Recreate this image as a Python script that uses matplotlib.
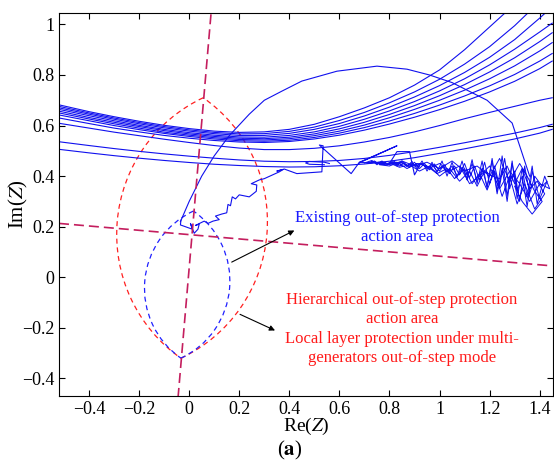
import numpy as np
import matplotlib
matplotlib.use('Agg')
import matplotlib.pyplot as plt
from matplotlib.patches import Arc
from matplotlib.ticker import FuncFormatter

plt.rcParams['font.family'] = ['Liberation Serif', 'DejaVu Serif']
plt.rcParams['mathtext.fontset'] = 'stix'

# ---- data ----
# swing arcs (impedance circles), sampled on one x grid
arc_x = [-0.52, -0.4, -0.3, -0.2, -0.1, 0.0, 0.1, 0.2, 0.3, 0.4, 0.5,
         0.6, 0.7, 0.8, 0.9, 1.0, 1.1, 1.2, 1.3, 1.4, 1.45]
arc_y = [
    [.682, .655, .635, .617, .601, .588, .578, .573, .575, .585, .605, .635, .670, .710, .760, .820, .900, .990, 1.08, 1.17, 1.21],
    [.676, .650, .630, .612, .596, .583, .573, .567, .568, .577, .594, .620, .652, .690, .733, .783, .843, .912, .995, 1.09, 1.14],
    [.670, .645, .625, .607, .591, .578, .568, .561, .561, .569, .585, .608, .638, .673, .713, .758, .810, .870, .940, 1.025, 1.07],
    [.664, .639, .619, .601, .585, .572, .562, .555, .554, .561, .575, .597, .625, .658, .695, .737, .785, .840, .902, .970, 1.005],
    [.657, .632, .613, .596, .580, .567, .557, .550, .548, .554, .567, .587, .613, .644, .679, .718, .762, .812, .868, .932, .967],
    [.650, .626, .607, .590, .574, .562, .552, .545, .543, .548, .560, .578, .602, .631, .664, .700, .740, .785, .836, .895, .928],
    [.642, .619, .600, .584, .569, .557, .547, .540, .538, .542, .553, .570, .592, .618, .648, .681, .717, .757, .802, .855, .885],
    [.630, .608, .590, .575, .561, .550, .541, .535, .533, .537, .547, .562, .582, .606, .633, .663, .696, .733, .775, .825, .855],
    [.609, .590, .574, .560, .546, .533, .521, .511, .505, .505, .510, .520, .535, .553, .575, .600, .627, .652, .676, .700, .710],
    [.536, .521, .509, .498, .488, .479, .471, .464, .459, .457, .458, .462, .470, .482, .497, .514, .532, .551, .570, .592, .605],
    [.506, .492, .481, .471, .462, .454, .447, .442, .438, .436, .437, .441, .448, .459, .473, .490, .508, .527, .547, .570, .585],
]

# big swing hump
hump_x = [-0.035, 0.0, 0.05, 0.10, 0.16, 0.24, 0.30, 0.37, 0.45, 0.59, 0.75, 0.87, 0.96, 1.05, 1.19, 1.29, 1.34, 1.36]
hump_y = [0.22, 0.30, 0.40, 0.48, 0.56, 0.645, 0.70, 0.736, 0.776, 0.815, 0.835, 0.823, 0.80, 0.77, 0.70, 0.61, 0.46, 0.40]

# jagged path after fault
path_x = [-0.033, -0.035, 0.013, 0.005, 0.02, 0.035, 0.04, 0.025, 0.06, 0.075, 0.095, 0.12, 0.105, 0.13, 0.15,
          0.155, 0.165, 0.172, 0.185, 0.20, 0.24, 0.268, 0.27, 0.248, 0.28, 0.30, 0.36, 0.375, 0.35, 0.38,
          0.43, 0.53, 0.535, 0.52, 0.647, 0.68, 0.75, 0.83, 0.70, 0.68]
path_y = [0.226, 0.207, 0.19, 0.213, 0.174, 0.19, 0.21, 0.205, 0.222, 0.213, 0.222, 0.228, 0.242, 0.25, 0.255,
          0.288, 0.283, 0.318, 0.31, 0.326, 0.318, 0.34, 0.365, 0.37, 0.385, 0.39, 0.417, 0.426, 0.42, 0.428,
          0.41, 0.417, 0.52, 0.523, 0.41, 0.455, 0.485, 0.52, 0.462, 0.452]
loop_x = [0.54, 0.48, 0.465, 0.48, 0.54, 0.56]
loop_y = [0.445, 0.447, 0.452, 0.458, 0.455, 0.45]
bump_x = [0.80, 0.83, 0.88, 0.90, 0.92]
bump_y = [0.45, 0.497, 0.497, 0.405, 0.44]

# oscillation around the load point (two passes)
osc_x = [0.68, 0.72, 0.74, 0.76, 0.78, 0.80, 0.82, 0.84, 0.86, 0.88, 0.90, 0.92, 0.94, 0.96, 0.98, 1.00, 1.02, 1.04,
         1.06, 1.08, 1.10, 1.12, 1.14, 1.16, 1.18, 1.20, 1.22, 1.24, 1.26, 1.28, 1.30, 1.32, 1.34, 1.36, 1.38, 1.41,
         1.43, 1.40, 1.37, 1.35, 1.33, 1.31, 1.29, 1.27, 1.25, 1.23, 1.21, 1.19, 1.17, 1.15, 1.13, 1.11, 1.09, 1.07,
         1.05, 1.03, 1.01, 0.99, 0.97, 0.95, 0.93, 0.91, 0.89, 0.87, 0.85, 0.83, 0.81, 0.79, 0.77, 0.75, 0.73, 0.71,
         0.74, 0.78, 0.83, 0.87, 0.91, 0.95, 0.99, 1.03, 1.06, 1.10, 1.13, 1.16, 1.19, 1.22, 1.25, 1.28, 1.31, 1.34,
         1.38, 1.42, 1.39, 1.36, 1.33, 1.30, 1.27, 1.24, 1.21, 1.18, 1.15, 1.12, 1.08, 1.04, 1.00, 0.96, 0.92, 0.88,
         0.84, 0.80, 0.76, 0.80, 0.85, 0.90, 0.95, 1.00, 1.05, 1.10, 1.15, 1.20, 1.24, 1.28, 1.32, 1.35, 1.38, 1.41,
         1.37, 1.33, 1.30]
osc_y = [0.455, 0.452, 0.46, 0.447, 0.455, 0.445, 0.458, 0.44, 0.452, 0.435, 0.455, 0.43, 0.45, 0.425, 0.448, 0.42,
         0.445, 0.41, 0.44, 0.405, 0.45, 0.395, 0.44, 0.385, 0.455, 0.37, 0.44, 0.36, 0.47, 0.35, 0.42, 0.30, 0.44,
         0.33, 0.40, 0.36, 0.38, 0.31, 0.42, 0.28, 0.40, 0.34, 0.45, 0.30, 0.43, 0.33, 0.46, 0.36, 0.43, 0.38, 0.45,
         0.39, 0.435, 0.40, 0.44, 0.415, 0.44, 0.42, 0.445, 0.43, 0.45, 0.435, 0.452, 0.44, 0.455, 0.445, 0.456,
         0.448, 0.457, 0.45, 0.458, 0.452, 0.455, 0.447, 0.455, 0.43, 0.45, 0.44, 0.41, 0.43, 0.39, 0.43, 0.37,
         0.41, 0.345, 0.42, 0.32, 0.40, 0.29, 0.37, 0.27, 0.33, 0.38, 0.35, 0.43, 0.37, 0.44, 0.39, 0.40, 0.42,
         0.36, 0.42, 0.38, 0.43, 0.40, 0.44, 0.42, 0.445, 0.435, 0.452, 0.445, 0.44, 0.46, 0.44, 0.455, 0.43,
         0.46, 0.42, 0.44, 0.40, 0.47, 0.38, 0.45, 0.40, 0.34, 0.30, 0.25, 0.30, 0.36]
osc2_x = [0.70, 0.73, 0.75, 0.77, 0.79, 0.81, 0.83, 0.85, 0.87, 0.89, 0.91, 0.93, 0.95, 0.97, 0.99, 1.01, 1.03,
          1.05, 1.07, 1.09, 1.11, 1.13, 1.15, 1.17, 1.19, 1.21, 1.23, 1.25, 1.27, 1.29, 1.31, 1.33, 1.35, 1.37,
          1.39, 1.42, 1.44, 1.40, 1.36, 1.32, 1.28, 1.24, 1.20, 1.16, 1.12, 1.08, 1.04, 1.00, 0.96, 0.92, 0.88,
          0.84, 0.80, 0.76, 0.72]
osc2_y = [0.452, 0.462, 0.445, 0.46, 0.443, 0.462, 0.44, 0.46, 0.437, 0.458, 0.428, 0.46, 0.42, 0.455, 0.415,
          0.46, 0.40, 0.455, 0.395, 0.46, 0.385, 0.465, 0.37, 0.46, 0.35, 0.47, 0.34, 0.48, 0.32, 0.46, 0.31,
          0.43, 0.32, 0.44, 0.29, 0.40, 0.35, 0.37, 0.30, 0.37, 0.42, 0.35, 0.44, 0.40, 0.37, 0.44, 0.42, 0.45,
          0.432, 0.45, 0.44, 0.455, 0.447, 0.456, 0.45]

# protection characteristics: (top vertex, bottom vertex, half width)
red_lens = ((0.056, 0.71), (-0.033, -0.32), 0.30)
blue_lens = ((0.017, 0.262), (-0.033, -0.32), 0.17)
blinder_v = ((0.087, 1.04), (-0.044, -0.47))
blinder_h = ((-0.52, 0.213), (1.45, 0.045))

xticks = [-0.4, -0.2, 0, 0.2, 0.4, 0.6, 0.8, 1, 1.2, 1.4]
yticks = [-0.4, -0.2, 0, 0.2, 0.4, 0.6, 0.8, 1]


def lens(ax, top, bot, w, color):
    top, bot = np.array(top), np.array(bot)
    mid = (top + bot) / 2
    v = top - bot
    L = np.hypot(*v)
    c = L / 2
    R = (c * c + w * w) / (2 * w)
    d = R - w
    n = np.array([v[1], -v[0]]) / L
    for s in (1, -1):
        cen = mid + s * d * n
        a_top = np.degrees(np.arctan2(*(top - cen)[::-1]))
        a_bot = np.degrees(np.arctan2(*(bot - cen)[::-1]))
        t1, t2 = (a_top, a_bot) if s == 1 else (a_bot, a_top)
        if t2 <= t1:
            t2 += 360
        ax.add_patch(Arc(cen, 2 * R, 2 * R, theta1=t1, theta2=t2, color=color,
                         lw=0.9, ls=(0, (4, 3))))


fig = plt.figure(figsize=(5.54, 4.66), dpi=100)
ax = fig.add_axes([0.1065, 0.150, 0.8925, 0.822])

blue = '#1010ee'
for ys in arc_y:
    ax.plot(arc_x, ys, color=blue, lw=0.8)
ax.plot(hump_x, hump_y, color=blue, lw=0.8)
ax.plot(path_x, path_y, color=blue, lw=0.8)
ax.plot(loop_x, loop_y, color=blue, lw=0.8)
ax.plot(bump_x, bump_y, color=blue, lw=0.8)
ax.plot(osc_x, osc_y, color=blue, lw=0.7)
ax.plot(osc2_x, osc2_y, color=blue, lw=0.7)

lens(ax, *red_lens, color='#ff2020')
lens(ax, *blue_lens, color='#2020ff')
for (p, q) in (blinder_v, blinder_h):
    ax.plot([p[0], q[0]], [p[1], q[1]], color='#c41e5e', lw=1.2, ls=(0, (6, 3)))

ax.annotate('', xy=(0.43, 0.19), xytext=(0.16, 0.055),
            arrowprops=dict(arrowstyle='-|>', color='k', lw=0.8, mutation_scale=8))
ax.annotate('', xy=(0.353, -0.215), xytext=(0.193, -0.142),
            arrowprops=dict(arrowstyle='-|>', color='k', lw=0.8, mutation_scale=8))
ax.text(0.83, 0.195, 'Existing out-of-step protection\naction area', color='#1a1aff',
        ha='center', va='center', fontsize=12, linespacing=1.25)
ax.text(0.85, -0.205, 'Hierarchical out-of-step protection\naction area\n'
        'Local layer protection under multi-\ngenerators out-of-step mode',
        color='#ff1a1a', ha='center', va='center', fontsize=12, linespacing=1.3)

ax.set_xlim(-0.52, 1.455)
ax.set_ylim(-0.47, 1.045)
ax.set_xticks(xticks)
ax.set_yticks(yticks)
fmt = FuncFormatter(lambda v, p: f'{round(v, 2) + 0.0:g}'.replace('-', '\u2212'))
ax.xaxis.set_major_formatter(fmt)
ax.yaxis.set_major_formatter(fmt)
ax.tick_params(direction='in', top=True, right=True, length=4, labelsize=13)
ax.set_xlabel('Re($Z$)', fontsize=14)
ax.set_ylabel('Im($Z$)', fontsize=15)
ax.xaxis.set_label_coords(0.5, -0.052)
ax.yaxis.set_label_coords(-0.058, 0.5)

fig.text(0.523, 0.033, r'($\mathbf{a}$)', fontsize=15, ha='center', va='center')

fig.savefig('out.png', dpi=100)
